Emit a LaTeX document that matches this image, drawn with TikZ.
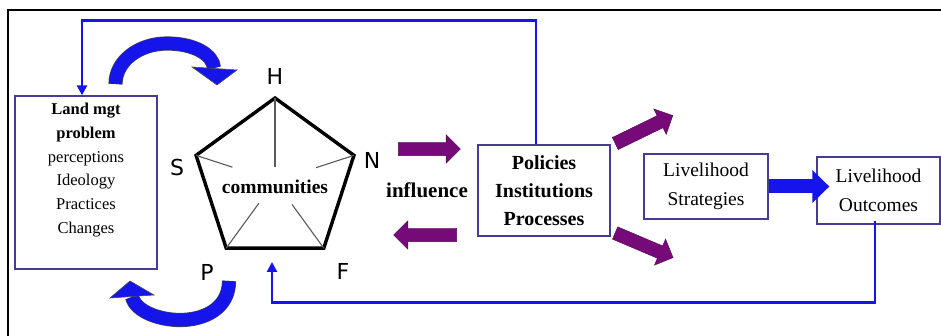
\documentclass[tikz,border=0pt]{standalone}
\usepackage{fontspec}
\setmainfont{Liberation Serif}
\newfontfamily\letterfont{DejaVu Sans}
\usetikzlibrary{arrows.meta,shapes.geometric,shapes.arrows,calc}
\definecolor{loopblue}{RGB}{20,20,235}
\definecolor{boxline}{RGB}{70,60,150}
\definecolor{pushpurple}{RGB}{118,10,120}
\tikzset{
	box/.style={draw=boxline, line width=1.3pt, rectangle, inner sep=0pt, align=center},
	feedback/.style={loopblue, line width=2.8pt, -{Triangle[length=10pt,width=10pt]}},
	curvy/.style={draw=black!70, line width=0.6pt, double=loopblue, double distance=13pt},
	headfill/.style={fill=loopblue, draw=black!70, line width=0.6pt},
	push/.style={single arrow, fill=pushpurple, draw=pushpurple!70!black, line width=0.4pt,
		inner xsep=0pt, inner ysep=6.5pt, single arrow head extend=7.5pt, minimum width=0pt},
	cornerlabel/.style={font=\letterfont\fontsize{22}{24}\selectfont}
}
\begin{document}
\begin{tikzpicture}[x=1pt,y=-1pt]
	\useasboundingbox (0,0) rectangle (941,336);
	% frame
	\draw[line width=2pt] (8,336) -- (8,10) -- (941,10);
	% boxes
	\node (land) at (86,182.5)	[box, minimum width=142pt, minimum height=173pt]	{};
	\node (landtxt) at (86,103)	[anchor=north, align=center, inner sep=0pt, font=\fontsize{16.5}{23.7}\selectfont]
		{\textbf{Land mgt}\\ \textbf{problem}\\ perceptions\\ Ideology\\ Practices\\ Changes};
	\node (pol) at (544,190.5)	[box, minimum width=132pt, minimum height=91pt, font=\fontsize{20}{28}\selectfont\bfseries]
		{Policies\\ Institutions\\ Processes};
	\node (strat) at (706,186.5)	[box, minimum width=124pt, minimum height=65pt, font=\fontsize{19.5}{28.5}\selectfont]
		{Livelihood\\ Strategies};
	\node (out) at (878.5,190.5)	[box, minimum width=123pt, minimum height=67pt, font=\fontsize{19.5}{28.5}\selectfont]
		{Livelihood\\ Outcomes};
	% pentagon
	\node (pent) at (275,181)	[regular polygon, regular polygon sides=5, minimum size=166pt,
		inner sep=0pt, outer sep=0pt, draw, line width=3.4pt, line join=miter]	{};
	\foreach \c/\f in {1/0.83, 2/0.46, 3/0.67, 4/0.65, 5/0.48}
		\draw[black!65, line width=1.1pt] (pent.corner \c) -- ($(pent.corner \c)!\f!(pent.center)$);
	\node (comm) at (275,187)	[font=\fontsize{19.5}{22}\selectfont\bfseries]	{communities};
	\node (H) at (275,76)	[cornerlabel]	{H};
	\node (S) at (177,167)	[cornerlabel]	{S};
	\node (N) at (372,160)	[cornerlabel]	{N};
	\node (P) at (207,272)	[cornerlabel]	{P};
	\node (F) at (343,271)	[cornerlabel]	{F};
	% influence
	\node (infl) at (427,190)	[font=\fontsize{21}{24}\selectfont\bfseries]	{influence};
	\node (toright) at (426,149)	[push, minimum height=62pt]	{};
	\node (toleft) at (428.5,235)	[push, minimum height=63pt, rotate=180]	{};
	\node (upout) at (641,131)	[push, minimum height=64pt, rotate=26]	{};
	\node (downout) at (641,244)	[push, minimum height=63pt, rotate=-23]	{};
	% feedback loops
	\coordinate (pin) at (272,262);
	\draw[feedback] ([xshift=-8pt]pol.north) -- ++(0,-124) -| ([xshift=-4pt]land.north);
	\draw[feedback] ([xshift=-3.5pt,yshift=4pt]out.south) -- ++(0,82) -| (pin);
	\draw[loopblue, line width=14pt, -{Triangle[length=17pt,width=32pt]}] (strat.east) -- ([xshift=13pt]strat.east -| out.west);
	% curved arrows
	\draw[curvy] (115.5,84) .. controls (115.5,61) and (139,43.5) .. (167,43.5) .. controls (195,43.5) and (213,55) .. (214,68);
	\fill[headfill] (192,67) -- (237,70) -- (217,85) -- cycle;
	\draw[curvy] (229,281) .. controls (229,308) and (205,320) .. (180,320) .. controls (160,320) and (136,312) .. (132,297);
	\fill[headfill] (110,298) -- (154,295) -- (130,281) -- cycle;
\end{tikzpicture}
\end{document}
